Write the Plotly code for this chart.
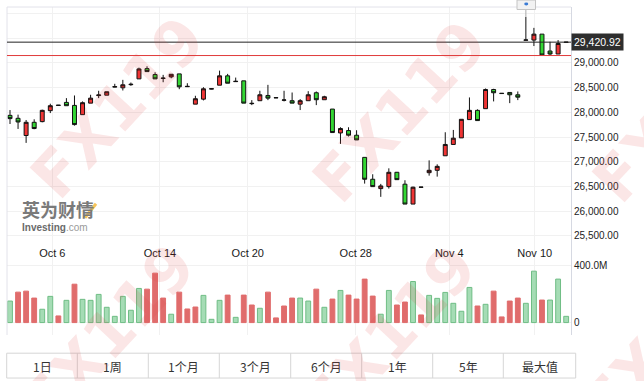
import plotly.graph_objects as go

# ---------------- data ----------------
opens = [27940, 27880, 27532, 27799, 27813, 28035, 28140, 28202, 28141, 27954,
         28187, 28340, 28348, 28512, 28497, 28560, 28678, 28885, 28765, 28695,
         28718, 28779, 28520, 28167, 28268, 28472, 28550, 28739, 28622, 28638,
         28185, 28236, 28342, 28293, 28246, 28236, 28167, 28236, 28397, 28256,
         28067, 27584, 27632, 27538, 27090, 26647, 26458, 26498, 26788, 26547,
         26145, 26484, 26780, 26828, 27122, 27351, 27484, 27854, 28041, 28075,
         28463, 28381, 28403, 28356, 29460, 29463, 29583, 29241, 29181, 29415]
highs = [28047, 27954, 27846, 27860, 28055, 28175, 28150, 28288, 28342, 28222,
         28356, 28437, 28417, 28578, 28658, 28604, 28905, 28932, 28811, 28759,
         28771, 28779, 28590, 28336, 28509, 28485, 28845, 28779, 28704, 28638,
         28248, 28437, 28557, 28300, 28437, 28402, 28268, 28429, 28423, 28336,
         28067, 27699, 27699, 27639, 27090, 26748, 26553, 26868, 26795, 26627,
         26498, 26490, 27029, 26949, 27598, 27645, 27860, 28302, 28061, 28483,
         28477, 28386, 28403, 28423, 29931, 29710, 29583, 29428, 29463, 29423]
lows = [27765, 27665, 27383, 27659, 27799, 27986, 28135, 28135, 27733, 27954,
        28187, 28288, 28348, 28509, 28443, 28537, 28678, 28825, 28678, 28610,
        28690, 28469, 28518, 28167, 28242, 28468, 28550, 28590, 28618, 28187,
        28147, 28236, 28248, 28290, 28222, 28187, 28047, 28236, 28147, 28256,
        27592, 27363, 27512, 27443, 26559, 26492, 26291, 26458, 26633, 26145,
        26145, 26482, 26720, 26700, 27122, 27351, 27484, 27854, 27834, 28075,
        28222, 28380, 28187, 28248, 29458, 29342, 29161, 29161, 29181, 29412]
closes = [27874, 27806, 27799, 27673, 28041, 28135, 28145, 28135, 27753, 28196,
          28288, 28352, 28417, 28520, 28558, 28568, 28879, 28825, 28678, 28688,
          28771, 28517, 28526, 28276, 28477, 28478, 28739, 28590, 28628, 28187,
          28178, 28356, 28288, 28298, 28251, 28187, 28236, 28356, 28256, 28316,
          27592, 27673, 27538, 27443, 26647, 26498, 26512, 26788, 26639, 26145,
          26486, 26488, 26828, 26908, 27351, 27478, 27860, 28041, 27834, 28463,
          28397, 28385, 28356, 28308, 29465, 29583, 29161, 29181, 29394, 29421]

# volume in millions, and bar colour class as drawn (r = red, g = green)
volumes = [152, 215, 222, 173, 94, 185, 47, 157, 271, 164,
           157, 199, 108, 44, 185, 87, 241, 236, 349, 173,
           59, 215, 96, 110, 192, 23, 157, 194, 37, 194,
           124, 101, 215, 33, 117, 173, 173, 152, 236, 108,
           166, 227, 194, 166, 307, 187, 59, 227, 124, 145,
           290, 54, 192, 171, 213, 136, 80, 248, 117, 129,
           222, 40, 152, 173, 136, 363, 159, 159, 307, 44]
volume_dir = list("grrrggrgrg" "gggggggrrr" "grrrgggrgr" "rgrrrrggrg"
                  "rgrrrrggrr" "grggggggrg" "rrrrggrggg")

tick_labels = ["Oct 6", "Oct 14", "Oct 20", "Oct 28", "Nov 4", "Nov 10"]
tick_positions = [5.25, 18.6, 29.5, 42.9, 54.5, 65.1]

price_ticks = [25500, 26000, 26500, 27000, 27500, 28000, 28500, 29000, 29500, 30000]
price_tick_text = ["25,500.00", "26,000.00", "26,500.00", "27,000.00", "27,500.00",
                   "28,000.00", "28,500.00", "29,000.00", "", ""]
last_price = 29420.92
ref_line_price = 29150
ranges = ["1日", "1周", "1个月", "3个月", "6个月", "1年", "5年", "最大值"]

# ---------------- layout helpers ----------------
W, H = 644, 381
L, R, T, B = 7, 73, 5, 46
PW, PH = W - L - R, H - T - B


def px(xp):
    return (xp - L) / PW


def py(yp):
    return (H - B - yp) / PH


idx = list(range(len(opens)))
split = py(262)

fig = go.Figure()
fig.add_trace(go.Candlestick(
    x=idx, open=opens, high=highs, low=lows, close=closes,
    increasing=dict(line=dict(color="#111111", width=1), fillcolor="#ef3434"),
    decreasing=dict(line=dict(color="#111111", width=1), fillcolor="#33d633"),
    xaxis="x", yaxis="y", showlegend=False, hoverinfo="skip"))

vfill = ["#e06c6c" if d == "r" else "#a5dcb5" for d in volume_dir]
vline = ["#e06c6c" if d == "r" else "#6fbd85" for d in volume_dir]
fig.add_trace(go.Bar(
    x=idx, y=volumes, width=0.6,
    marker=dict(color=vfill, line=dict(color=vline, width=1)),
    xaxis="x2", yaxis="y2", showlegend=False, hoverinfo="skip"))

xr = [-0.372, 69.6]
grid = "#f1f1f1"
axis_line = "#d6d9e2"
fig.update_layout(
    width=W, height=H, autosize=False,
    margin=dict(l=L, r=R, t=T, b=B),
    paper_bgcolor="white", plot_bgcolor="white",
    font=dict(family="Liberation Sans, Arial, sans-serif", color="#222222"),
    xaxis=dict(domain=[0, 1], anchor="y", range=xr, rangeslider=dict(visible=False),
               tickvals=tick_positions, showticklabels=False, ticks="",
               showgrid=True, gridcolor=grid, zeroline=False, showline=False),
    xaxis2=dict(domain=[0, 1], anchor="y2", matches="x", side="top",
                tickvals=tick_positions, ticktext=tick_labels, ticks="",
                ticklabelstandoff=2,
                tickfont=dict(size=11, color="#1a1a1a"),
                showgrid=True, gridcolor=grid, zeroline=False, showline=False),
    yaxis=dict(domain=[split, 1], anchor="x", side="right", range=[24964, 30132],
               tickvals=price_ticks, ticktext=price_tick_text, ticks="",
               tickfont=dict(size=10, color="#222222"),
               showgrid=True, gridcolor=grid, zeroline=False,
               showline=True, linecolor=axis_line, linewidth=1),
    yaxis2=dict(domain=[0, split], anchor="x2", side="right", range=[-87.7, 424.6],
                tickvals=[0, 400], ticktext=["0", "400.0M"], ticks="",
                tickfont=dict(size=10, color="#222222"),
                showgrid=True, gridcolor=grid, zeroline=False,
                showline=True, linecolor=axis_line, linewidth=1),
)

shapes = []
# plot frame: left and top borders
shapes.append(dict(type="line", xref="paper", yref="paper", x0=0, x1=0, y0=0, y1=1,
                   line=dict(color="#e2e2ea", width=1)))
shapes.append(dict(type="line", xref="paper", yref="paper", x0=0, x1=1, y0=1, y1=1,
                   line=dict(color="#e2e2ea", width=1)))
# last price and reference lines
shapes.append(dict(type="line", xref="paper", yref="y", x0=0, x1=1,
                   y0=last_price, y1=last_price, line=dict(color="#222222", width=1)))
shapes.append(dict(type="line", xref="paper", yref="y", x0=0, x1=1,
                   y0=ref_line_price, y1=ref_line_price, line=dict(color="#e03a3a", width=1)))
# event marker above the highest candle
top_i = max(idx, key=lambda k: highs[k])
shapes.append(dict(type="line", xref="x", yref="y", x0=top_i, x1=top_i,
                   y0=highs[top_i], y1=30132, line=dict(color="#aaaaaa", width=1)))
shapes.append(dict(type="rect", xref="x", yref="paper", x0=top_i - 1.1, x1=top_i + 1.2,
                   y0=py(7.5), y1=py(-2), fillcolor="#f2f2f2",
                   line=dict(color="#c4c4c4", width=1)))
shapes.append(dict(type="circle", xref="x", yref="paper", x0=top_i - 0.2, x1=top_i + 0.3,
                   y0=py(3.5), y1=py(0.5), fillcolor="#3a7bd5", line=dict(width=0)))
# range buttons
bx = [6.7, 77.3, 148.3, 219.3, 290.7, 361.7, 432.7, 503.3, 575.7]
shapes.append(dict(type="rect", xref="paper", yref="paper", x0=px(bx[0]), x1=px(bx[-1]),
                   y0=py(378.3), y1=py(353.3), line=dict(color="#d6d6d6", width=1)))
for b in bx[1:-1]:
    shapes.append(dict(type="line", xref="paper", yref="paper", x0=px(b), x1=px(b),
                       y0=py(378.3), y1=py(353.3), line=dict(color="#d6d6d6", width=1)))
# logo accent stroke
shapes.append(dict(type="line", xref="paper", yref="paper", x0=px(85), x1=px(96),
                   y0=py(217), y1=py(203), line=dict(color="rgba(245,185,60,0.85)", width=3)))

annotations = []
annotations.append(dict(xref="paper", yref="y", x=1, y=last_price, xanchor="left",
                        yanchor="middle", text=f"{last_price:,.2f}", showarrow=False,
                        bgcolor="#2e2e2e", borderpad=2, xshift=0,
                        font=dict(size=10.5, color="white", family="Liberation Sans, Arial")))
for k, lab in enumerate(ranges):
    annotations.append(dict(xref="paper", yref="paper", x=px((bx[k] + bx[k + 1]) / 2),
                            y=py(366.5), xanchor="center", yanchor="middle",
                            text=lab, showarrow=False,
                            font=dict(size=12, color="#333333",
                                      family="Noto Sans CJK SC, sans-serif")))
# logo
annotations.append(dict(xref="paper", yref="paper", x=px(20), y=py(208), xanchor="left",
                        yanchor="middle", text="<b>英为财情</b>", showarrow=False,
                        font=dict(size=18, color="#7a7a7a", family="Noto Sans CJK SC")))
annotations.append(dict(xref="paper", yref="paper", x=px(20), y=py(226.5), xanchor="left",
                        yanchor="middle",
                        text="<b>Investing</b><span style='color:#9a9a9a'>.com</span>",
                        showarrow=False,
                        font=dict(size=10, color="#6a6a6a", family="Liberation Sans")))
# watermark
for cx, cy in [(118, 106), (400, 110), (680, 110), (108, 334), (390, 336), (670, 336)]:
    annotations.append(dict(xref="paper", yref="paper", x=px(cx), y=py(cy),
                            xanchor="center", yanchor="middle", text="<b>FX119</b>",
                            textangle=-47, showarrow=False,
                            font=dict(size=62, color="rgba(225,60,60,0.13)",
                                      family="DejaVu Sans")))

fig.update_layout(shapes=shapes, annotations=annotations)
fig.write_html("out.html", config={"displayModeBar": False},
               post_script="document.body.style.margin='0';"
                           "document.documentElement.style.overflow='hidden';")
